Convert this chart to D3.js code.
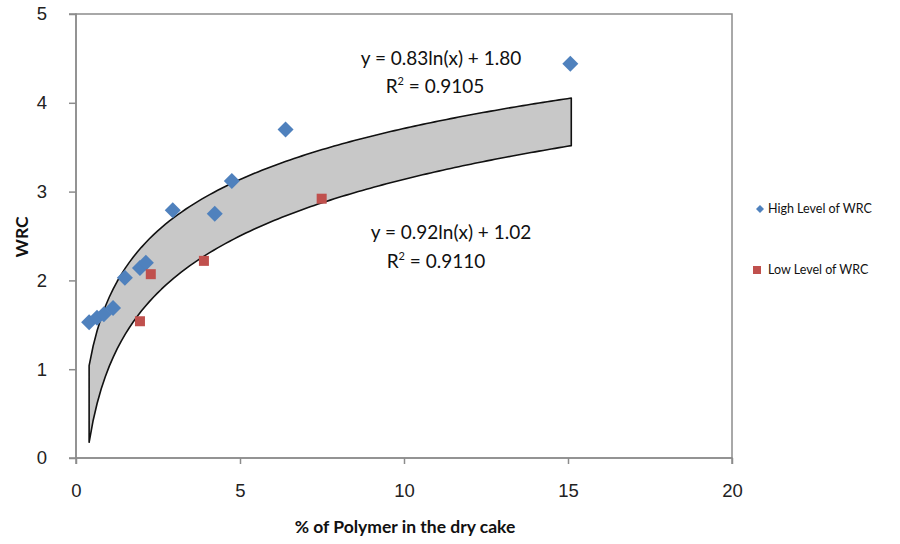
<!DOCTYPE html>
<html>
<head>
<meta charset="utf-8">
<script src="https://cdn.jsdelivr.net/npm/d3@7"></script>
<style>
  body { margin: 0; background: #fff; }
  svg { font-family: Lato, "Open Sans", sans-serif; }
  .tick text { fill: #222; font-size: 18.5px; }
</style>
</head>
<body>
<div id="chart"></div>
<script>
// Data
var highX = [0.40, 0.64, 0.85, 1.13, 1.49, 1.95, 2.13, 2.95, 4.23, 4.75, 6.39, 15.07];
var highY = [1.53, 1.58, 1.62, 1.69, 2.03, 2.14, 2.20, 2.79, 2.75, 3.12, 3.70, 4.44];
var lowX = [1.95, 2.28, 3.90, 7.49];
var lowY = [1.54, 2.07, 2.22, 2.92];

// Trendlines y = a ln(x) + b
var upperFit = [0.83, 1.80];
var lowerFit = [0.92, 1.02];
var fitRange = [0.4, 15.1];

var xTicks = [0, 5, 10, 15, 20];
var yTicks = [0, 1, 2, 3, 4, 5];

var width = 900;
var height = 544;
var plotL = 76, plotR = 732, plotT = 14, plotB = 458;

var svg = d3.select("#chart").append("svg")
  .attr("width", width)
  .attr("height", height);

var xScale = d3.scaleLinear().domain([0, 20]).range([plotL, plotR]);
var yScale = d3.scaleLinear().domain([0, 5]).range([plotB, plotT]);

// plot area border
svg.append("rect")
  .attr("x", plotL).attr("y", plotT)
  .attr("width", plotR - plotL).attr("height", plotB - plotT)
  .attr("fill", "none").attr("stroke", "#8c8c8c").attr("stroke-width", 1.5);

// axes
var xAxis = d3.axisBottom(xScale).tickValues(xTicks).tickFormat(d3.format("d")).tickSize(6).tickPadding(20);
var yAxis = d3.axisLeft(yScale).tickValues(yTicks).tickFormat(d3.format("d")).tickSize(7).tickPadding(22);

svg.append("g")
  .attr("transform", "translate(0," + plotB + ")")
  .call(xAxis)
  .call(function(g) {
    g.selectAll("line, path").attr("stroke", "#8c8c8c").attr("stroke-width", 1.5);
    g.select(".domain").attr("d", "M" + plotL + ",6V0H" + plotR + "V6");
  });

svg.append("g")
  .attr("transform", "translate(" + plotL + ",0)")
  .call(yAxis)
  .call(function(g) {
    g.selectAll("line, path").attr("stroke", "#8c8c8c").attr("stroke-width", 1.5);
    g.select(".domain").attr("d", "M-7," + plotT + "H0V" + plotB + "H-7");
  });

// trendline band
function fitAt(fit, x) { return fit[0] * Math.log(x) + fit[1]; }
var steps = d3.range(0, 121).map(function(i) {
  return fitRange[0] + (fitRange[1] - fitRange[0]) * i / 120;
});
var upperPts = steps.map(function(x) { return [xScale(x), yScale(fitAt(upperFit, x))]; });
var lowerPts = steps.slice().reverse().map(function(x) { return [xScale(x), yScale(fitAt(lowerFit, x))]; });

svg.append("path")
  .attr("d", d3.line()(upperPts.concat(lowerPts)) + "Z")
  .attr("fill", "#c8c8c8")
  .attr("stroke", "#111")
  .attr("stroke-width", 1.6)
  .attr("stroke-linejoin", "round");

// high level points (diamonds)
svg.selectAll(".high")
  .data(highX.map(function(x, i) { return [x, highY[i]]; }))
  .enter().append("path")
  .attr("class", "high")
  .attr("d", "M0,-8L8,0L0,8L-8,0Z")
  .attr("transform", function(d) { return "translate(" + xScale(d[0]) + "," + yScale(d[1]) + ")"; })
  .attr("fill", "#4f81bd");

// low level points (squares)
svg.selectAll(".low")
  .data(lowX.map(function(x, i) { return [x, lowY[i]]; }))
  .enter().append("rect")
  .attr("class", "low")
  .attr("x", function(d) { return xScale(d[0]) - 5; })
  .attr("y", function(d) { return yScale(d[1]) - 5; })
  .attr("width", 10).attr("height", 10)
  .attr("fill", "#c0504d");

// equation labels
var eqFont = 19;
function eqLabel(x, y, txt) {
  svg.append("text").attr("x", x).attr("y", y)
    .attr("text-anchor", "middle").attr("font-size", eqFont).attr("fill", "#111")
    .text(txt);
}
function r2Label(x, y, val) {
  var t = svg.append("text").attr("x", x).attr("y", y)
    .attr("text-anchor", "middle").attr("font-size", eqFont).attr("fill", "#111");
  t.append("tspan").text("R");
  t.append("tspan").attr("font-size", 11).attr("dy", -8).text("2");
  t.append("tspan").attr("dy", 8).text(" = " + val);
}
eqLabel(441, 65, "y = 0.83ln(x) + 1.80");
r2Label(435, 93, "0.9105");
eqLabel(451, 239, "y = 0.92ln(x) + 1.02");
r2Label(436, 268, "0.9110");

// axis titles
svg.append("text")
  .attr("x", 405).attr("y", 533)
  .attr("text-anchor", "middle").attr("font-size", 17.5).attr("font-weight", "bold").attr("fill", "#111")
  .text("% of Polymer in the dry cake");

svg.append("text")
  .attr("transform", "translate(28,237)rotate(-90)")
  .attr("text-anchor", "middle").attr("font-size", 17.5).attr("font-weight", "bold").attr("fill", "#111")
  .text("WRC");

// legend
var legend = svg.append("g").attr("font-size", 12.5).attr("fill", "#111");
legend.append("path").attr("d", "M0,-4L4,0L0,4L-4,0Z")
  .attr("transform", "translate(760,209)").attr("fill", "#4f81bd");
legend.append("text").attr("x", 768).attr("y", 213).text("High Level of WRC");
legend.append("rect").attr("x", 753).attr("y", 266).attr("width", 8).attr("height", 8).attr("fill", "#c0504d");
legend.append("text").attr("x", 768).attr("y", 274).text("Low Level of WRC");
</script>
</body>
</html>
